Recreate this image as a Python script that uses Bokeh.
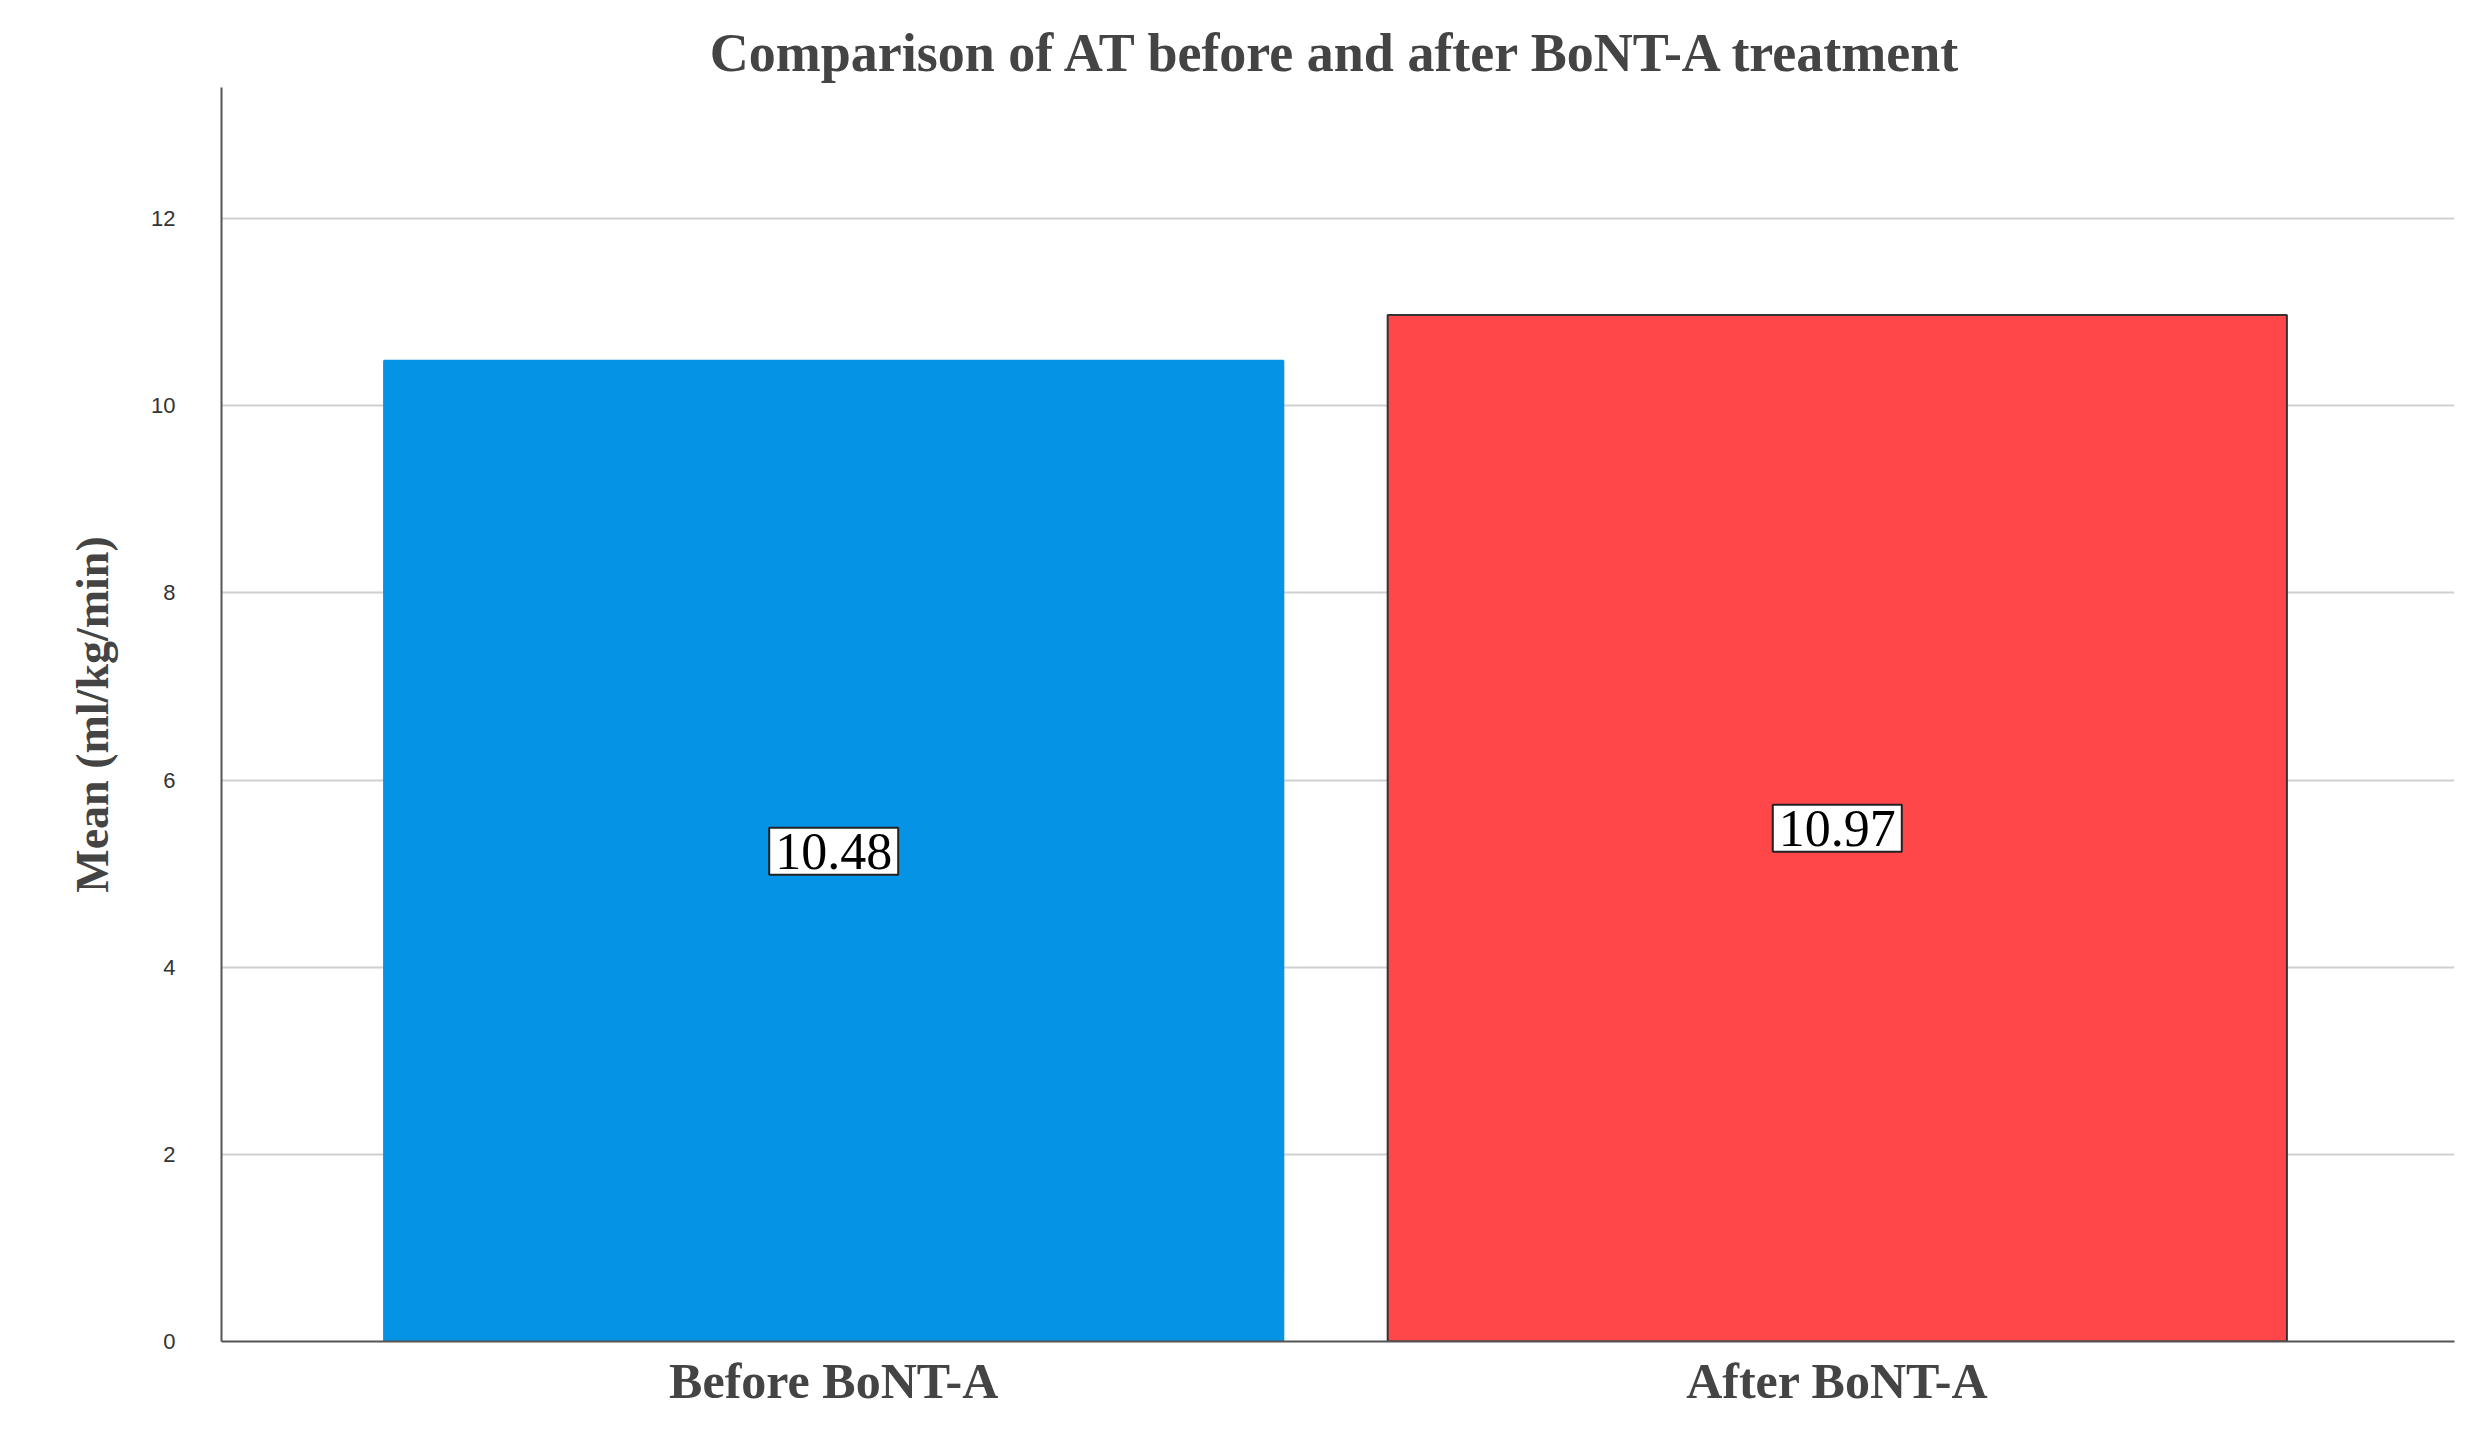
from bokeh.plotting import figure
from bokeh.models import Range1d, FixedTicker, ColumnDataSource
from bokeh.core.properties import value
from bokeh.embed import file_html
from bokeh.resources import INLINE

categories = ["Before BoNT-A", "After BoNT-A"]
means = [10.48, 10.97]
colors = ["#0593E5", "#FF4649"]
outlines = ["#0593E5", "#333333"]
xpos = [1, 2]
labels = [f"{m:.2f}" for m in means]

src = ColumnDataSource(dict(x=xpos, top=means, color=colors, line=outlines,
                            mid=[m / 2 for m in means], label=labels))

p = figure(width=2459, height=1416, output_backend="svg", toolbar_location=None,
           x_range=Range1d(0.39, 2.615), y_range=Range1d(0, 13.4),
           min_border_left=221, min_border_right=5, min_border_top=87, min_border_bottom=75)
p.outline_line_color = None
p.title.text = "Comparison of AT before and after BoNT-A treatment"
p.title.text_font = "Liberation Serif"
p.title.text_font_size = "54px"
p.title.align = "center"
p.title.offset = 0

p.vbar(x="x", top="top", width=0.896, fill_color="color", line_color="line", line_width=2, source=src)
p.text(x="x", y="mid", text="label", source=src, text_align="center", text_baseline="middle",
       text_font=value("Liberation Serif"), text_font_size="52px", text_color="black",
       background_fill_color="white", border_line_color="#222222", border_line_width=2,
       padding=6)

p.xaxis.ticker = FixedTicker(ticks=xpos)
p.xaxis.major_label_overrides = {x: c for x, c in zip(xpos, categories)}
p.xaxis.major_label_text_font = "Liberation Serif"
p.xaxis.major_label_text_font_style = "bold"
p.xaxis.major_label_text_font_size = "50px"
p.xaxis.major_tick_line_color = None
p.xaxis.minor_tick_line_color = None
p.xaxis.axis_line_color = "#555555"
p.xaxis.axis_line_width = 2

p.yaxis.ticker = FixedTicker(ticks=[0, 2, 4, 6, 8, 10, 12])
p.yaxis.major_label_text_font = "Liberation Sans"
p.yaxis.major_label_text_font_size = "22px"
p.yaxis.major_label_text_color = "#333333"
p.yaxis.major_tick_line_color = None
p.yaxis.minor_tick_line_color = None
p.yaxis.major_label_standoff = 40
p.yaxis.axis_line_color = "#555555"
p.yaxis.axis_line_width = 2
p.yaxis.axis_label = "Mean (ml/kg/min)"
p.yaxis.axis_label_text_font = "Liberation Serif"
p.yaxis.axis_label_text_font_style = "bold"
p.yaxis.axis_label_text_font_size = "46px"
p.yaxis.axis_label_standoff = 30

p.xgrid.grid_line_color = None
p.ygrid.grid_line_color = "#D0D0D0"
p.ygrid.grid_line_width = 2

open("out.html", "w").write(file_html(p, INLINE))
